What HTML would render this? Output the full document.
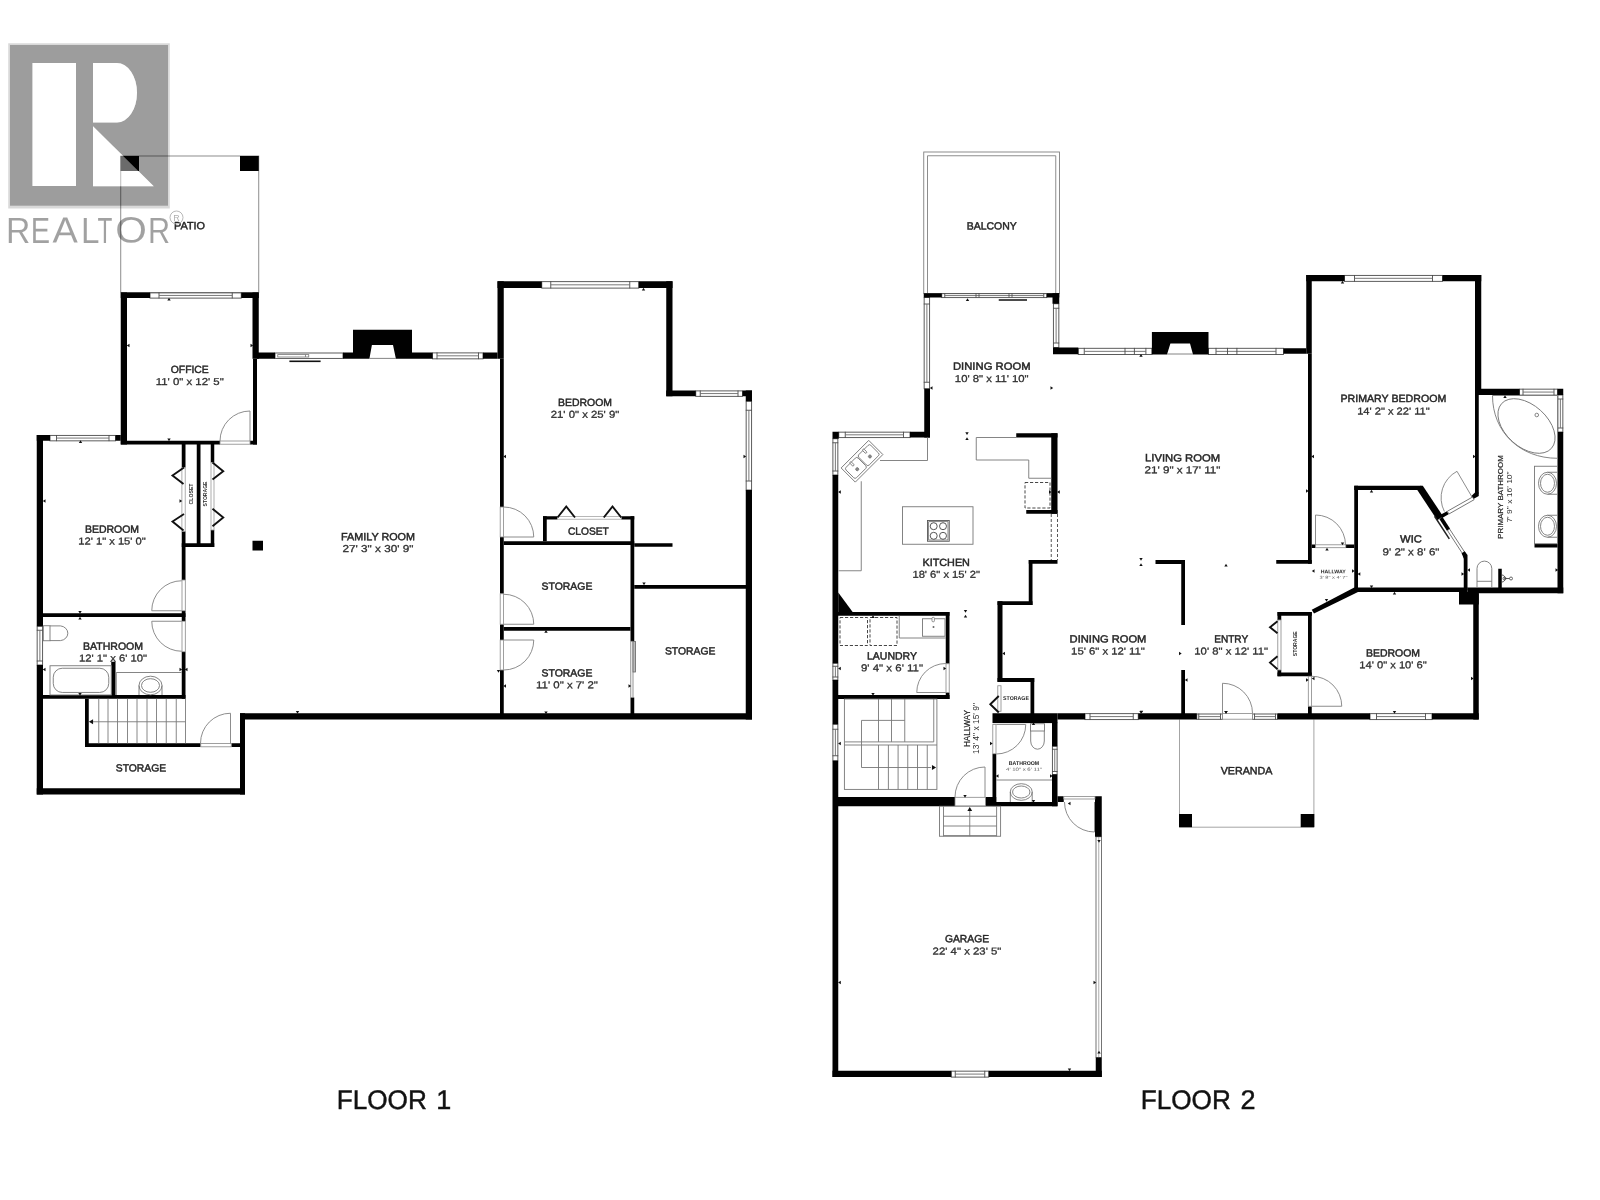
<!DOCTYPE html>
<html><head><meta charset="utf-8"><title>Floor plan</title>
<style>
html,body{margin:0;padding:0;background:#fff;}
body{width:1600px;height:1200px;overflow:hidden;}
svg{display:block;font-family:"Liberation Sans",sans-serif;will-change:transform;opacity:0.999;}
</style></head><body>
<svg width="1600" height="1200" viewBox="0 0 1600 1200">
<rect width="1600" height="1200" fill="#fff"/>
<g id="floor1">
<rect x="120.75" y="156.00" width="138.00" height="136.50" fill="none" stroke="#808080" stroke-width="0.9"/>
<rect x="120.50" y="156.00" width="18.50" height="15.00" fill="#000"/>
<rect x="240.00" y="156.00" width="18.75" height="15.00" fill="#000"/>
<rect x="150.00" y="292.90" width="91.25" height="5.20" fill="#fff" stroke="#4a4a4a" stroke-width="0.9"/>
<line x1="159.00" y1="292.50" x2="159.00" y2="298.40" stroke="#4a4a4a" stroke-width="0.9" />
<line x1="232.25" y1="292.50" x2="232.25" y2="298.40" stroke="#4a4a4a" stroke-width="0.9" />
<line x1="159.00" y1="295.45" x2="232.25" y2="295.45" stroke="#6a6a6a" stroke-width="0.9" />
<rect x="50.00" y="435.40" width="65.50" height="5.45" fill="#fff" stroke="#4a4a4a" stroke-width="0.9"/>
<line x1="56.50" y1="435.00" x2="56.50" y2="441.15" stroke="#4a4a4a" stroke-width="0.9" />
<line x1="109.00" y1="435.00" x2="109.00" y2="441.15" stroke="#4a4a4a" stroke-width="0.9" />
<line x1="56.50" y1="438.07" x2="109.00" y2="438.07" stroke="#6a6a6a" stroke-width="0.9" />
<rect x="37.15" y="626.25" width="5.45" height="38.75" fill="#fff" stroke="#4a4a4a" stroke-width="0.9"/>
<line x1="36.75" y1="630.25" x2="43.00" y2="630.25" stroke="#4a4a4a" stroke-width="0.9" />
<line x1="36.75" y1="661.00" x2="43.00" y2="661.00" stroke="#4a4a4a" stroke-width="0.9" />
<line x1="39.88" y1="630.25" x2="39.88" y2="661.00" stroke="#6a6a6a" stroke-width="0.9" />
<rect x="432.50" y="352.90" width="50.50" height="5.95" fill="#fff" stroke="#4a4a4a" stroke-width="0.9"/>
<line x1="437.00" y1="352.50" x2="437.00" y2="359.15" stroke="#4a4a4a" stroke-width="0.9" />
<line x1="478.50" y1="352.50" x2="478.50" y2="359.15" stroke="#4a4a4a" stroke-width="0.9" />
<line x1="437.00" y1="355.82" x2="478.50" y2="355.82" stroke="#6a6a6a" stroke-width="0.9" />
<rect x="541.75" y="281.65" width="97.00" height="6.45" fill="#fff" stroke="#4a4a4a" stroke-width="0.9"/>
<line x1="550.75" y1="281.25" x2="550.75" y2="288.40" stroke="#4a4a4a" stroke-width="0.9" />
<line x1="629.75" y1="281.25" x2="629.75" y2="288.40" stroke="#4a4a4a" stroke-width="0.9" />
<line x1="550.75" y1="284.82" x2="629.75" y2="284.82" stroke="#6a6a6a" stroke-width="0.9" />
<rect x="695.75" y="390.90" width="46.75" height="5.45" fill="#fff" stroke="#4a4a4a" stroke-width="0.9"/>
<line x1="700.25" y1="390.50" x2="700.25" y2="396.65" stroke="#4a4a4a" stroke-width="0.9" />
<line x1="738.00" y1="390.50" x2="738.00" y2="396.65" stroke="#4a4a4a" stroke-width="0.9" />
<line x1="700.25" y1="393.57" x2="738.00" y2="393.57" stroke="#6a6a6a" stroke-width="0.9" />
<rect x="746.15" y="401.25" width="5.45" height="88.75" fill="#fff" stroke="#4a4a4a" stroke-width="0.9"/>
<line x1="745.75" y1="410.25" x2="752.00" y2="410.25" stroke="#4a4a4a" stroke-width="0.9" />
<line x1="745.75" y1="481.00" x2="752.00" y2="481.00" stroke="#4a4a4a" stroke-width="0.9" />
<line x1="748.88" y1="410.25" x2="748.88" y2="481.00" stroke="#6a6a6a" stroke-width="0.9" />
<rect x="275.00" y="353.00" width="68.00" height="5.40" fill="#fff" stroke="#4a4a4a" stroke-width="0.9"/>
<rect x="277.75" y="354.60" width="31.00" height="2.40" fill="#fff" stroke="#777" stroke-width="0.8"/>
<line x1="305.50" y1="354.60" x2="305.50" y2="357.00" stroke="#777" stroke-width="0.8" />
<rect x="289.40" y="360.50" width="31.20" height="1.60" fill="#111"/>
<rect x="120.75" y="292.50" width="29.25" height="5.50" fill="#000"/>
<rect x="241.25" y="292.50" width="17.50" height="5.50" fill="#000"/>
<rect x="120.75" y="292.50" width="6.25" height="152.00" fill="#000"/>
<rect x="252.50" y="292.50" width="6.25" height="66.25" fill="#000"/>
<rect x="253.00" y="358.75" width="4.00" height="85.75" fill="#000"/>
<rect x="120.75" y="440.75" width="99.25" height="3.75" fill="#000"/>
<rect x="250.00" y="440.75" width="7.00" height="3.75" fill="#000"/>
<rect x="36.75" y="435.00" width="13.25" height="5.75" fill="#000"/>
<rect x="115.50" y="435.00" width="5.25" height="5.75" fill="#000"/>
<rect x="36.75" y="435.00" width="6.25" height="191.25" fill="#000"/>
<rect x="36.75" y="665.00" width="6.25" height="129.50" fill="#000"/>
<rect x="181.75" y="444.00" width="3.75" height="23.50" fill="#000"/>
<rect x="181.75" y="531.25" width="3.75" height="48.75" fill="#000"/>
<rect x="196.75" y="444.00" width="3.75" height="103.00" fill="#000"/>
<rect x="210.75" y="444.00" width="3.50" height="18.50" fill="#000"/>
<rect x="210.75" y="530.00" width="3.50" height="17.00" fill="#000"/>
<rect x="181.75" y="543.25" width="32.50" height="3.75" fill="#000"/>
<rect x="181.75" y="610.75" width="3.75" height="10.50" fill="#000"/>
<rect x="181.75" y="651.75" width="3.75" height="47.00" fill="#000"/>
<rect x="43.00" y="613.25" width="142.50" height="3.75" fill="#000"/>
<rect x="43.00" y="695.00" width="142.50" height="3.75" fill="#000"/>
<rect x="111.25" y="661.75" width="4.25" height="33.25" fill="#000"/>
<rect x="85.00" y="698.75" width="3.75" height="48.25" fill="#000"/>
<rect x="85.00" y="743.25" width="115.75" height="3.75" fill="#000"/>
<rect x="231.25" y="743.25" width="8.75" height="3.75" fill="#000"/>
<rect x="240.00" y="713.25" width="5.00" height="81.25" fill="#000"/>
<rect x="36.75" y="788.25" width="208.25" height="6.25" fill="#000"/>
<rect x="240.00" y="713.25" width="512.00" height="6.25" fill="#000"/>
<rect x="257.00" y="352.50" width="18.00" height="6.25" fill="#000"/>
<rect x="343.00" y="352.50" width="10.00" height="6.25" fill="#000"/>
<rect x="412.00" y="352.50" width="20.50" height="6.25" fill="#000"/>
<rect x="483.00" y="352.50" width="14.50" height="6.25" fill="#000"/>
<rect x="497.50" y="281.25" width="44.25" height="6.75" fill="#000"/>
<rect x="638.75" y="281.25" width="33.75" height="6.75" fill="#000"/>
<rect x="497.50" y="281.25" width="6.25" height="77.50" fill="#000"/>
<rect x="500.00" y="358.75" width="3.75" height="148.25" fill="#000"/>
<rect x="500.00" y="537.00" width="3.75" height="56.75" fill="#000"/>
<rect x="500.00" y="624.25" width="3.75" height="15.75" fill="#000"/>
<rect x="500.00" y="670.00" width="3.75" height="49.00" fill="#000"/>
<rect x="666.25" y="281.25" width="6.25" height="115.00" fill="#000"/>
<rect x="666.25" y="390.50" width="29.50" height="5.75" fill="#000"/>
<rect x="742.50" y="390.50" width="9.50" height="5.75" fill="#000"/>
<rect x="745.75" y="390.50" width="6.25" height="10.75" fill="#000"/>
<rect x="745.75" y="490.00" width="6.25" height="229.50" fill="#000"/>
<rect x="543.00" y="516.25" width="3.75" height="25.00" fill="#000"/>
<rect x="543.00" y="516.25" width="14.50" height="3.25" fill="#000"/>
<rect x="621.25" y="516.25" width="13.00" height="3.25" fill="#000"/>
<rect x="630.50" y="516.25" width="3.75" height="28.75" fill="#000"/>
<rect x="503.75" y="541.25" width="130.50" height="3.75" fill="#000"/>
<rect x="634.25" y="543.25" width="38.25" height="3.50" fill="#000"/>
<rect x="630.50" y="545.00" width="3.75" height="96.25" fill="#000"/>
<rect x="630.50" y="697.50" width="3.75" height="17.50" fill="#000"/>
<rect x="634.25" y="585.00" width="112.00" height="3.75" fill="#000"/>
<rect x="503.75" y="627.00" width="126.75" height="3.75" fill="#000"/>
<rect x="252.50" y="540.75" width="10.50" height="9.75" fill="#000"/>
<path d="M353,329.75 H412 V358.75 H395.9 L393,345 H371.9 L369.4,358.75 H353 Z" fill="#000"/>
<line x1="369.40" y1="358.40" x2="395.90" y2="358.40" stroke="#666" stroke-width="0.8" />
<rect x="181.90" y="467.50" width="3.30" height="63.75" fill="#fff" stroke="#999" stroke-width="0.8"/>
<rect x="211.00" y="462.50" width="3.00" height="67.50" fill="#fff" stroke="#999" stroke-width="0.8"/>
<polyline points="184.00,467.50 172.50,475.50 183.50,484.00" fill="none" stroke="#111" stroke-width="1.9" stroke-linejoin="miter"/>
<polyline points="184.00,514.00 172.50,521.50 183.50,530.50" fill="none" stroke="#111" stroke-width="1.9" stroke-linejoin="miter"/>
<polyline points="212.50,462.50 223.25,471.25 212.50,479.50" fill="none" stroke="#111" stroke-width="1.9" stroke-linejoin="miter"/>
<polyline points="212.50,508.75 223.25,517.50 212.50,526.25" fill="none" stroke="#111" stroke-width="1.9" stroke-linejoin="miter"/>
<text x="193.30" y="494.00" font-size="5" fill="#2a2a2a" text-anchor="middle" textLength="21.0" lengthAdjust="spacingAndGlyphs" transform="rotate(-90 193.30 494.00)" font-weight="bold" >CLOSET</text>
<text x="206.80" y="494.00" font-size="5" fill="#2a2a2a" text-anchor="middle" textLength="25.0" lengthAdjust="spacingAndGlyphs" transform="rotate(-90 206.80 494.00)" font-weight="bold" >STORAGE</text>
<rect x="557.50" y="516.60" width="63.75" height="2.60" fill="#fff" stroke="#999" stroke-width="0.7"/>
<polyline points="557.50,517.50 566.25,506.50 575.00,517.50" fill="none" stroke="#111" stroke-width="1.9" stroke-linejoin="miter"/>
<polyline points="603.75,517.50 612.50,506.50 621.25,517.50" fill="none" stroke="#111" stroke-width="1.9" stroke-linejoin="miter"/>
<rect x="220.00" y="441.00" width="30.00" height="3.20" fill="#fff" stroke="#888" stroke-width="0.8"/>
<path d="M250.00,411.00 A30,30 0 0 0 220.00,441.00" stroke="#808080" stroke-width="0.9" fill="none" />
<line x1="250.00" y1="441.00" x2="250.00" y2="411.00" stroke="#808080" stroke-width="0.9" />
<rect x="182.00" y="580.00" width="3.30" height="30.75" fill="#fff" stroke="#888" stroke-width="0.8"/>
<path d="M151.75,610.75 A30,30 0 0 1 181.75,580.75" stroke="#808080" stroke-width="0.9" fill="none" />
<line x1="181.75" y1="610.75" x2="151.75" y2="610.75" stroke="#808080" stroke-width="0.9" />
<rect x="182.00" y="621.25" width="3.30" height="30.50" fill="#fff" stroke="#888" stroke-width="0.8"/>
<path d="M151.75,621.25 A30,30 0 0 0 181.75,651.25" stroke="#808080" stroke-width="0.9" fill="none" />
<line x1="181.75" y1="621.25" x2="151.75" y2="621.25" stroke="#808080" stroke-width="0.9" />
<rect x="200.75" y="743.50" width="30.50" height="3.30" fill="#fff" stroke="#888" stroke-width="0.8"/>
<path d="M230.50,713.25 A30,30 0 0 0 200.50,743.25" stroke="#808080" stroke-width="0.9" fill="none" />
<line x1="230.50" y1="743.25" x2="230.50" y2="713.25" stroke="#808080" stroke-width="0.9" />
<rect x="500.20" y="507.00" width="3.30" height="30.00" fill="#fff" stroke="#888" stroke-width="0.8"/>
<path d="M533.75,537.00 A30,30 0 0 0 503.75,507.00" stroke="#808080" stroke-width="0.9" fill="none" />
<line x1="503.75" y1="537.00" x2="533.75" y2="537.00" stroke="#808080" stroke-width="0.9" />
<rect x="500.20" y="593.75" width="3.30" height="30.50" fill="#fff" stroke="#888" stroke-width="0.8"/>
<path d="M533.75,624.25 A30,30 0 0 0 503.75,594.25" stroke="#808080" stroke-width="0.9" fill="none" />
<line x1="503.75" y1="624.25" x2="533.75" y2="624.25" stroke="#808080" stroke-width="0.9" />
<rect x="500.20" y="640.00" width="3.30" height="30.00" fill="#fff" stroke="#888" stroke-width="0.8"/>
<path d="M533.75,640.00 A30,30 0 0 1 503.75,670.00" stroke="#808080" stroke-width="0.9" fill="none" />
<line x1="503.75" y1="640.00" x2="533.75" y2="640.00" stroke="#808080" stroke-width="0.9" />
<rect x="630.80" y="641.25" width="2.20" height="56.25" fill="#fff" stroke="#777" stroke-width="0.8"/>
<rect x="633.00" y="641.50" width="2.60" height="30.50" fill="#bbb" stroke="#666" stroke-width="0.8"/>
<rect x="43.30" y="625.75" width="6.70" height="15.00" fill="#fff" stroke="#777" stroke-width="0.9"/>
<path d="M50,625.9 H60.5 A8.3,7.4 0 0 1 60.5,640.6 H50" stroke="#777" stroke-width="0.9" fill="none" />
<rect x="50.00" y="665.75" width="61.25" height="29.25" fill="#fff" stroke="#777" stroke-width="0.9"/>
<rect x="53.25" y="668.25" width="55.5" height="24.2" rx="9" ry="9" fill="none" stroke="#777" stroke-width="0.9"/>
<path d="M116.25,695 V672.5 H181.5" stroke="#777" stroke-width="0.9" fill="none" />
<ellipse cx="150.5" cy="685.5" rx="11.5" ry="9.3" fill="none" stroke="#777" stroke-width="0.9"/>
<ellipse cx="150.5" cy="685.5" rx="9" ry="6.8" fill="none" stroke="#777" stroke-width="0.9"/>
<path d="M139,685.5 V695 M162,685.5 V695" stroke="#777" stroke-width="0.9" fill="none" />
<line x1="98.75" y1="698.75" x2="98.75" y2="743.25" stroke="#7a7a7a" stroke-width="0.9" />
<line x1="108.00" y1="698.75" x2="108.00" y2="743.25" stroke="#7a7a7a" stroke-width="0.9" />
<line x1="117.50" y1="698.75" x2="117.50" y2="743.25" stroke="#7a7a7a" stroke-width="0.9" />
<line x1="127.50" y1="698.75" x2="127.50" y2="743.25" stroke="#7a7a7a" stroke-width="0.9" />
<line x1="137.00" y1="698.75" x2="137.00" y2="743.25" stroke="#7a7a7a" stroke-width="0.9" />
<line x1="147.00" y1="698.75" x2="147.00" y2="743.25" stroke="#7a7a7a" stroke-width="0.9" />
<line x1="156.50" y1="698.75" x2="156.50" y2="743.25" stroke="#7a7a7a" stroke-width="0.9" />
<line x1="166.25" y1="698.75" x2="166.25" y2="743.25" stroke="#7a7a7a" stroke-width="0.9" />
<line x1="176.25" y1="698.75" x2="176.25" y2="743.25" stroke="#7a7a7a" stroke-width="0.9" />
<line x1="185.50" y1="698.75" x2="185.50" y2="743.25" stroke="#7a7a7a" stroke-width="0.9" />
<line x1="92.00" y1="721.75" x2="185.50" y2="721.75" stroke="#7a7a7a" stroke-width="0.9" />
<polygon points="88.90,721.75 93.06,719.15 93.06,724.35" fill="#111"/>
<polygon points="169.00,297.80 167.30,300.52 170.70,300.52" fill="#111"/>
<polygon points="169.00,441.20 167.30,438.48 170.70,438.48" fill="#111"/>
<polygon points="126.80,345.50 129.52,343.80 129.52,347.20" fill="#111"/>
<polygon points="253.20,345.50 250.48,343.80 250.48,347.20" fill="#111"/>
<polygon points="80.50,440.30 78.80,443.02 82.20,443.02" fill="#111"/>
<polygon points="80.00,613.70 78.30,610.98 81.70,610.98" fill="#111"/>
<polygon points="80.00,616.80 78.30,619.52 81.70,619.52" fill="#111"/>
<polygon points="80.00,695.70 78.30,692.98 81.70,692.98" fill="#111"/>
<polygon points="42.80,501.00 45.52,499.30 45.52,502.70" fill="#111"/>
<polygon points="182.20,501.00 179.48,499.30 179.48,502.70" fill="#111"/>
<polygon points="42.80,669.50 45.52,667.80 45.52,671.20" fill="#111"/>
<polygon points="182.20,669.50 179.48,667.80 179.48,671.20" fill="#111"/>
<polygon points="184.80,669.50 187.52,667.80 187.52,671.20" fill="#111"/>
<polygon points="297.50,713.70 295.80,710.98 299.20,710.98" fill="#111"/>
<polygon points="643.50,287.80 641.80,290.52 645.20,290.52" fill="#111"/>
<polygon points="503.30,456.50 506.02,454.80 506.02,458.20" fill="#111"/>
<polygon points="746.20,456.50 743.48,454.80 743.48,458.20" fill="#111"/>
<polygon points="644.00,585.20 642.30,582.48 645.70,582.48" fill="#111"/>
<polygon points="546.00,630.10 544.30,632.82 547.70,632.82" fill="#111"/>
<polygon points="546.00,714.20 544.30,711.48 547.70,711.48" fill="#111"/>
<polygon points="503.30,686.00 506.02,684.30 506.02,687.70" fill="#111"/>
<polygon points="631.20,686.00 628.48,684.30 628.48,687.70" fill="#111"/>
<polygon points="498.50,672.70 496.80,669.98 500.20,669.98" fill="#111"/>
<text x="189.50" y="229.20" font-size="10.4" fill="#262626" text-anchor="middle" textLength="31.0" lengthAdjust="spacingAndGlyphs" transform="rotate(0.03 189.50 229.20)" stroke="#262626" stroke-width="0.45">PATIO</text>
<text x="189.75" y="373.10" font-size="10.4" fill="#262626" text-anchor="middle" textLength="38.0" lengthAdjust="spacingAndGlyphs" transform="rotate(0.03 189.75 373.10)" stroke="#262626" stroke-width="0.45">OFFICE</text>
<text x="189.75" y="385.00" font-size="10.0" fill="#303030" text-anchor="middle" textLength="68.0" lengthAdjust="spacingAndGlyphs" transform="rotate(0.03 189.75 385.00)" stroke="#303030" stroke-width="0.3">11' 0&quot; x 12' 5&quot;</text>
<text x="112.00" y="532.70" font-size="10.4" fill="#262626" text-anchor="middle" textLength="54.2" lengthAdjust="spacingAndGlyphs" transform="rotate(0.03 112.00 532.70)" stroke="#262626" stroke-width="0.45">BEDROOM</text>
<text x="112.00" y="544.60" font-size="10.0" fill="#303030" text-anchor="middle" textLength="67.5" lengthAdjust="spacingAndGlyphs" transform="rotate(0.03 112.00 544.60)" stroke="#303030" stroke-width="0.3">12' 1&quot; x 15' 0&quot;</text>
<text x="378.00" y="540.20" font-size="10.4" fill="#262626" text-anchor="middle" textLength="74.0" lengthAdjust="spacingAndGlyphs" transform="rotate(0.03 378.00 540.20)" stroke="#262626" stroke-width="0.45">FAMILY ROOM</text>
<text x="378.00" y="552.10" font-size="10.0" fill="#303030" text-anchor="middle" textLength="71.0" lengthAdjust="spacingAndGlyphs" transform="rotate(0.03 378.00 552.10)" stroke="#303030" stroke-width="0.3">27' 3&quot; x 30' 9&quot;</text>
<text x="585.00" y="405.90" font-size="10.4" fill="#262626" text-anchor="middle" textLength="54.0" lengthAdjust="spacingAndGlyphs" transform="rotate(0.03 585.00 405.90)" stroke="#262626" stroke-width="0.45">BEDROOM</text>
<text x="585.00" y="417.80" font-size="10.0" fill="#303030" text-anchor="middle" textLength="68.5" lengthAdjust="spacingAndGlyphs" transform="rotate(0.03 585.00 417.80)" stroke="#303030" stroke-width="0.3">21' 0&quot; x 25' 9&quot;</text>
<text x="113.00" y="649.70" font-size="10.4" fill="#262626" text-anchor="middle" textLength="60.2" lengthAdjust="spacingAndGlyphs" transform="rotate(0.03 113.00 649.70)" stroke="#262626" stroke-width="0.45">BATHROOM</text>
<text x="113.00" y="661.60" font-size="10.0" fill="#303030" text-anchor="middle" textLength="68.0" lengthAdjust="spacingAndGlyphs" transform="rotate(0.03 113.00 661.60)" stroke="#303030" stroke-width="0.3">12' 1&quot; x 6' 10&quot;</text>
<text x="141.00" y="771.60" font-size="10.4" fill="#262626" text-anchor="middle" textLength="50.5" lengthAdjust="spacingAndGlyphs" transform="rotate(0.03 141.00 771.60)" stroke="#262626" stroke-width="0.45">STORAGE</text>
<text x="567.00" y="589.70" font-size="10.4" fill="#262626" text-anchor="middle" textLength="50.8" lengthAdjust="spacingAndGlyphs" transform="rotate(0.03 567.00 589.70)" stroke="#262626" stroke-width="0.45">STORAGE</text>
<text x="567.00" y="676.40" font-size="10.4" fill="#262626" text-anchor="middle" textLength="50.8" lengthAdjust="spacingAndGlyphs" transform="rotate(0.03 567.00 676.40)" stroke="#262626" stroke-width="0.45">STORAGE</text>
<text x="567.00" y="688.30" font-size="10.0" fill="#303030" text-anchor="middle" textLength="61.8" lengthAdjust="spacingAndGlyphs" transform="rotate(0.03 567.00 688.30)" stroke="#303030" stroke-width="0.3">11' 0&quot; x 7' 2&quot;</text>
<text x="690.20" y="654.60" font-size="10.4" fill="#262626" text-anchor="middle" textLength="50.5" lengthAdjust="spacingAndGlyphs" transform="rotate(0.03 690.20 654.60)" stroke="#262626" stroke-width="0.45">STORAGE</text>
<text x="588.40" y="534.80" font-size="10.4" fill="#262626" text-anchor="middle" textLength="40.8" lengthAdjust="spacingAndGlyphs" transform="rotate(0.03 588.40 534.80)" stroke="#262626" stroke-width="0.45">CLOSET</text>
<text x="336.80" y="1109.00" font-size="27" fill="#111" text-anchor="start" textLength="90.0" lengthAdjust="spacingAndGlyphs" transform="rotate(0.03 336.80 1109.00)" stroke="#111" stroke-width="0.45">FLOOR</text>
<text x="451.40" y="1109.00" font-size="27" fill="#111" text-anchor="end" transform="rotate(0.03 451.40 1109.00)" stroke="#111" stroke-width="0.45">1</text>
</g>
<g id="floor2">
<rect x="923.75" y="152.00" width="135.75" height="141.50" fill="none" stroke="#808080" stroke-width="0.9"/>
<path d="M927.5,293.5 V155.75 H1055.75 V293.5" stroke="#808080" stroke-width="0.9" fill="none" />
<path d="M1179.5,719.5 V827.2 H1313.9 V719.5" stroke="#9a9a9a" stroke-width="0.9" fill="none" />
<rect x="941.75" y="293.65" width="105.00" height="3.95" fill="#fff" stroke="#4a4a4a" stroke-width="0.9"/>
<line x1="944.75" y1="293.25" x2="944.75" y2="297.90" stroke="#4a4a4a" stroke-width="0.9" />
<line x1="1043.75" y1="293.25" x2="1043.75" y2="297.90" stroke="#4a4a4a" stroke-width="0.9" />
<line x1="944.75" y1="295.57" x2="1043.75" y2="295.57" stroke="#6a6a6a" stroke-width="0.9" />
<line x1="976.00" y1="293.25" x2="976.00" y2="297.50" stroke="#4a4a4a" stroke-width="0.8" />
<line x1="979.00" y1="293.25" x2="979.00" y2="297.50" stroke="#4a4a4a" stroke-width="0.8" />
<line x1="1009.00" y1="293.25" x2="1009.00" y2="297.50" stroke="#4a4a4a" stroke-width="0.8" />
<line x1="1012.00" y1="293.25" x2="1012.00" y2="297.50" stroke="#4a4a4a" stroke-width="0.8" />
<rect x="998.75" y="299.25" width="28.25" height="1.50" fill="#111"/>
<rect x="924.15" y="297.50" width="5.45" height="91.25" fill="#fff" stroke="#4a4a4a" stroke-width="0.9"/>
<line x1="923.75" y1="304.00" x2="930.00" y2="304.00" stroke="#4a4a4a" stroke-width="0.9" />
<line x1="923.75" y1="382.25" x2="930.00" y2="382.25" stroke="#4a4a4a" stroke-width="0.9" />
<line x1="926.88" y1="304.00" x2="926.88" y2="382.25" stroke="#6a6a6a" stroke-width="0.9" />
<rect x="1053.40" y="303.75" width="5.45" height="43.75" fill="#fff" stroke="#4a4a4a" stroke-width="0.9"/>
<line x1="1053.00" y1="308.25" x2="1059.25" y2="308.25" stroke="#4a4a4a" stroke-width="0.9" />
<line x1="1053.00" y1="343.00" x2="1059.25" y2="343.00" stroke="#4a4a4a" stroke-width="0.9" />
<line x1="1056.12" y1="308.25" x2="1056.12" y2="343.00" stroke="#6a6a6a" stroke-width="0.9" />
<rect x="1078.25" y="348.30" width="73.65" height="6.20" fill="#fff" stroke="#4a4a4a" stroke-width="0.9"/>
<line x1="1084.25" y1="347.90" x2="1084.25" y2="354.80" stroke="#4a4a4a" stroke-width="0.9" />
<line x1="1145.90" y1="347.90" x2="1145.90" y2="354.80" stroke="#4a4a4a" stroke-width="0.9" />
<line x1="1084.25" y1="351.35" x2="1145.90" y2="351.35" stroke="#6a6a6a" stroke-width="0.9" />
<line x1="1125.00" y1="347.90" x2="1125.00" y2="354.40" stroke="#4a4a4a" stroke-width="0.9" />
<line x1="1134.40" y1="347.90" x2="1134.40" y2="354.40" stroke="#4a4a4a" stroke-width="0.9" />
<rect x="1208.50" y="348.30" width="75.00" height="6.20" fill="#fff" stroke="#4a4a4a" stroke-width="0.9"/>
<line x1="1216.00" y1="347.90" x2="1216.00" y2="354.80" stroke="#4a4a4a" stroke-width="0.9" />
<line x1="1276.00" y1="347.90" x2="1276.00" y2="354.80" stroke="#4a4a4a" stroke-width="0.9" />
<line x1="1216.00" y1="351.35" x2="1276.00" y2="351.35" stroke="#6a6a6a" stroke-width="0.9" />
<line x1="1227.50" y1="347.90" x2="1227.50" y2="354.40" stroke="#4a4a4a" stroke-width="0.9" />
<line x1="1236.90" y1="347.90" x2="1236.90" y2="354.40" stroke="#4a4a4a" stroke-width="0.9" />
<rect x="838.75" y="432.15" width="71.25" height="5.45" fill="#fff" stroke="#4a4a4a" stroke-width="0.9"/>
<line x1="845.25" y1="431.75" x2="845.25" y2="437.90" stroke="#4a4a4a" stroke-width="0.9" />
<line x1="903.50" y1="431.75" x2="903.50" y2="437.90" stroke="#4a4a4a" stroke-width="0.9" />
<line x1="845.25" y1="434.82" x2="903.50" y2="434.82" stroke="#6a6a6a" stroke-width="0.9" />
<rect x="832.90" y="438.75" width="4.95" height="36.25" fill="#fff" stroke="#4a4a4a" stroke-width="0.9"/>
<line x1="832.50" y1="442.75" x2="838.25" y2="442.75" stroke="#4a4a4a" stroke-width="0.9" />
<line x1="832.50" y1="471.00" x2="838.25" y2="471.00" stroke="#4a4a4a" stroke-width="0.9" />
<line x1="835.38" y1="442.75" x2="835.38" y2="471.00" stroke="#6a6a6a" stroke-width="0.9" />
<rect x="832.90" y="663.25" width="4.95" height="16.75" fill="#fff" stroke="#4a4a4a" stroke-width="0.9"/>
<line x1="832.50" y1="666.25" x2="838.25" y2="666.25" stroke="#4a4a4a" stroke-width="0.9" />
<line x1="832.50" y1="677.00" x2="838.25" y2="677.00" stroke="#4a4a4a" stroke-width="0.9" />
<line x1="835.38" y1="666.25" x2="835.38" y2="677.00" stroke="#6a6a6a" stroke-width="0.9" />
<rect x="832.90" y="724.25" width="4.95" height="36.50" fill="#fff" stroke="#4a4a4a" stroke-width="0.9"/>
<line x1="832.50" y1="729.25" x2="838.25" y2="729.25" stroke="#4a4a4a" stroke-width="0.9" />
<line x1="832.50" y1="755.75" x2="838.25" y2="755.75" stroke="#4a4a4a" stroke-width="0.9" />
<line x1="835.38" y1="729.25" x2="835.38" y2="755.75" stroke="#6a6a6a" stroke-width="0.9" />
<rect x="1052.40" y="746.25" width="4.70" height="28.25" fill="#fff" stroke="#4a4a4a" stroke-width="0.9"/>
<line x1="1052.00" y1="749.25" x2="1057.50" y2="749.25" stroke="#4a4a4a" stroke-width="0.9" />
<line x1="1052.00" y1="771.50" x2="1057.50" y2="771.50" stroke="#4a4a4a" stroke-width="0.9" />
<line x1="1054.75" y1="749.25" x2="1054.75" y2="771.50" stroke="#6a6a6a" stroke-width="0.9" />
<rect x="1085.00" y="713.65" width="53.25" height="5.95" fill="#fff" stroke="#4a4a4a" stroke-width="0.9"/>
<line x1="1090.00" y1="713.25" x2="1090.00" y2="719.90" stroke="#4a4a4a" stroke-width="0.9" />
<line x1="1133.25" y1="713.25" x2="1133.25" y2="719.90" stroke="#4a4a4a" stroke-width="0.9" />
<line x1="1090.00" y1="716.58" x2="1133.25" y2="716.58" stroke="#6a6a6a" stroke-width="0.9" />
<rect x="1196.75" y="714.00" width="25.75" height="5.30" fill="#fff" stroke="#4a4a4a" stroke-width="0.9"/>
<line x1="1198.75" y1="713.60" x2="1198.75" y2="719.60" stroke="#4a4a4a" stroke-width="0.9" />
<line x1="1220.50" y1="713.60" x2="1220.50" y2="719.60" stroke="#4a4a4a" stroke-width="0.9" />
<line x1="1198.75" y1="716.60" x2="1220.50" y2="716.60" stroke="#6a6a6a" stroke-width="0.9" />
<rect x="1252.50" y="714.00" width="25.00" height="5.30" fill="#fff" stroke="#4a4a4a" stroke-width="0.9"/>
<line x1="1254.50" y1="713.60" x2="1254.50" y2="719.60" stroke="#4a4a4a" stroke-width="0.9" />
<line x1="1275.50" y1="713.60" x2="1275.50" y2="719.60" stroke="#4a4a4a" stroke-width="0.9" />
<line x1="1254.50" y1="716.60" x2="1275.50" y2="716.60" stroke="#6a6a6a" stroke-width="0.9" />
<rect x="1370.00" y="713.65" width="62.00" height="5.95" fill="#fff" stroke="#4a4a4a" stroke-width="0.9"/>
<line x1="1376.50" y1="713.25" x2="1376.50" y2="719.90" stroke="#4a4a4a" stroke-width="0.9" />
<line x1="1425.50" y1="713.25" x2="1425.50" y2="719.90" stroke="#4a4a4a" stroke-width="0.9" />
<line x1="1376.50" y1="716.58" x2="1425.50" y2="716.58" stroke="#6a6a6a" stroke-width="0.9" />
<rect x="951.25" y="1071.15" width="37.50" height="5.95" fill="#fff" stroke="#4a4a4a" stroke-width="0.9"/>
<line x1="955.25" y1="1070.75" x2="955.25" y2="1077.40" stroke="#4a4a4a" stroke-width="0.9" />
<line x1="984.75" y1="1070.75" x2="984.75" y2="1077.40" stroke="#4a4a4a" stroke-width="0.9" />
<line x1="955.25" y1="1074.08" x2="984.75" y2="1074.08" stroke="#6a6a6a" stroke-width="0.9" />
<rect x="1344.50" y="275.40" width="98.00" height="5.95" fill="#fff" stroke="#4a4a4a" stroke-width="0.9"/>
<line x1="1354.50" y1="275.00" x2="1354.50" y2="281.65" stroke="#4a4a4a" stroke-width="0.9" />
<line x1="1432.50" y1="275.00" x2="1432.50" y2="281.65" stroke="#4a4a4a" stroke-width="0.9" />
<line x1="1354.50" y1="278.32" x2="1432.50" y2="278.32" stroke="#6a6a6a" stroke-width="0.9" />
<rect x="1519.50" y="389.15" width="38.00" height="5.95" fill="#fff" stroke="#4a4a4a" stroke-width="0.9"/>
<line x1="1523.00" y1="388.75" x2="1523.00" y2="395.40" stroke="#4a4a4a" stroke-width="0.9" />
<line x1="1554.00" y1="388.75" x2="1554.00" y2="395.40" stroke="#4a4a4a" stroke-width="0.9" />
<line x1="1523.00" y1="392.07" x2="1554.00" y2="392.07" stroke="#6a6a6a" stroke-width="0.9" />
<rect x="1557.90" y="395.00" width="4.95" height="37.00" fill="#fff" stroke="#4a4a4a" stroke-width="0.9"/>
<line x1="1557.50" y1="399.00" x2="1563.25" y2="399.00" stroke="#4a4a4a" stroke-width="0.9" />
<line x1="1557.50" y1="428.00" x2="1563.25" y2="428.00" stroke="#4a4a4a" stroke-width="0.9" />
<line x1="1560.38" y1="399.00" x2="1560.38" y2="428.00" stroke="#6a6a6a" stroke-width="0.9" />
<rect x="1096.00" y="836.75" width="5.50" height="220.75" fill="#fff" stroke="#666" stroke-width="0.9"/>
<line x1="1098.75" y1="836.75" x2="1098.75" y2="1057.50" stroke="#999" stroke-width="0.8" />
<rect x="923.75" y="293.25" width="18.00" height="4.25" fill="#000"/>
<rect x="1046.75" y="293.25" width="12.50" height="4.25" fill="#000"/>
<rect x="1052.50" y="293.25" width="6.75" height="10.50" fill="#000"/>
<rect x="924.25" y="388.75" width="5.75" height="48.75" fill="#000"/>
<rect x="1053.00" y="347.50" width="25.25" height="6.75" fill="#000"/>
<rect x="1283.50" y="348.25" width="22.75" height="5.50" fill="#000"/>
<rect x="832.50" y="431.75" width="6.25" height="7.00" fill="#000"/>
<rect x="910.00" y="431.75" width="20.00" height="5.75" fill="#000"/>
<rect x="832.50" y="475.00" width="5.75" height="188.25" fill="#000"/>
<rect x="832.50" y="680.00" width="5.75" height="44.25" fill="#000"/>
<rect x="832.50" y="760.75" width="5.75" height="316.25" fill="#000"/>
<rect x="838.00" y="612.00" width="111.50" height="3.75" fill="#000"/>
<rect x="945.75" y="612.00" width="3.75" height="51.75" fill="#000"/>
<rect x="945.75" y="692.50" width="3.75" height="6.50" fill="#000"/>
<rect x="838.00" y="695.00" width="111.50" height="4.00" fill="#000"/>
<rect x="1016.25" y="433.25" width="41.25" height="4.25" fill="#000"/>
<rect x="1051.25" y="433.25" width="6.25" height="80.50" fill="#000"/>
<rect x="1026.25" y="510.00" width="31.25" height="3.75" fill="#000"/>
<rect x="1028.75" y="560.00" width="28.75" height="3.75" fill="#000"/>
<rect x="1028.75" y="560.00" width="3.75" height="45.00" fill="#000"/>
<rect x="997.50" y="601.25" width="35.00" height="3.75" fill="#000"/>
<rect x="997.50" y="601.25" width="5.00" height="80.50" fill="#000"/>
<rect x="997.50" y="678.00" width="36.75" height="4.00" fill="#000"/>
<rect x="1030.50" y="678.00" width="3.75" height="38.00" fill="#000"/>
<rect x="992.50" y="713.25" width="65.00" height="9.85" fill="#000"/>
<rect x="992.50" y="753.75" width="3.75" height="52.50" fill="#000"/>
<rect x="1052.00" y="722.50" width="5.50" height="23.75" fill="#000"/>
<rect x="1052.00" y="774.50" width="5.50" height="31.75" fill="#000"/>
<rect x="992.50" y="802.00" width="65.00" height="4.25" fill="#000"/>
<rect x="1057.50" y="796.25" width="6.25" height="5.75" fill="#000"/>
<rect x="1057.50" y="713.25" width="27.50" height="6.25" fill="#000"/>
<rect x="1138.25" y="713.25" width="58.50" height="6.25" fill="#000"/>
<rect x="1277.50" y="713.25" width="92.50" height="6.25" fill="#000"/>
<rect x="1432.00" y="713.25" width="46.75" height="6.25" fill="#000"/>
<rect x="1155.50" y="560.00" width="29.50" height="4.00" fill="#000"/>
<rect x="1181.25" y="560.00" width="3.75" height="65.00" fill="#000"/>
<rect x="1181.25" y="670.00" width="3.75" height="46.00" fill="#000"/>
<rect x="838.00" y="797.00" width="117.00" height="9.25" fill="#000"/>
<rect x="985.40" y="797.00" width="10.85" height="9.25" fill="#000"/>
<rect x="1095.00" y="796.25" width="6.75" height="40.50" fill="#000"/>
<rect x="1095.75" y="1057.50" width="6.00" height="19.50" fill="#000"/>
<rect x="832.50" y="1070.75" width="118.75" height="6.25" fill="#000"/>
<rect x="988.75" y="1070.75" width="113.00" height="6.25" fill="#000"/>
<rect x="1306.25" y="275.00" width="38.25" height="6.25" fill="#000"/>
<rect x="1442.50" y="275.00" width="38.75" height="6.25" fill="#000"/>
<rect x="1306.25" y="275.00" width="5.50" height="78.75" fill="#000"/>
<rect x="1308.00" y="353.75" width="3.75" height="210.00" fill="#000"/>
<rect x="1475.00" y="275.00" width="6.25" height="120.00" fill="#000"/>
<rect x="1475.00" y="395.00" width="3.75" height="98.50" fill="#000"/>
<rect x="1276.25" y="560.00" width="35.50" height="3.75" fill="#000"/>
<rect x="1478.75" y="388.75" width="40.75" height="6.25" fill="#000"/>
<rect x="1557.50" y="388.75" width="5.75" height="6.25" fill="#000"/>
<rect x="1557.50" y="432.00" width="5.75" height="161.25" fill="#000"/>
<rect x="1467.50" y="587.50" width="95.75" height="5.75" fill="#000"/>
<rect x="1534.50" y="543.75" width="23.00" height="3.75" fill="#000"/>
<rect x="1498.25" y="568.75" width="3.50" height="19.25" fill="#000"/>
<rect x="1354.25" y="485.75" width="67.00" height="4.25" fill="#000"/>
<rect x="1354.25" y="485.75" width="3.75" height="106.25" fill="#000"/>
<rect x="1354.25" y="587.50" width="113.25" height="4.50" fill="#000"/>
<rect x="1311.75" y="544.50" width="3.75" height="3.50" fill="#000"/>
<rect x="1345.75" y="544.50" width="8.50" height="3.50" fill="#000"/>
<rect x="1459.00" y="592.00" width="19.75" height="12.50" fill="#000"/>
<rect x="1473.25" y="593.25" width="5.50" height="126.25" fill="#000"/>
<rect x="1277.50" y="612.00" width="34.25" height="3.75" fill="#000"/>
<rect x="1277.50" y="612.00" width="3.75" height="8.00" fill="#000"/>
<rect x="1277.50" y="670.00" width="3.75" height="6.25" fill="#000"/>
<rect x="1277.50" y="672.50" width="34.25" height="3.75" fill="#000"/>
<rect x="1308.00" y="612.00" width="3.75" height="64.25" fill="#000"/>
<rect x="1308.00" y="706.25" width="3.75" height="12.75" fill="#000"/>
<rect x="1179.00" y="814.00" width="13.00" height="13.20" fill="#000"/>
<rect x="1300.70" y="814.00" width="13.60" height="13.20" fill="#000"/>
<polygon points="838.25,592.5 853,612.5 838.25,612.5" fill="#000"/>
<path d="M1151.9,331.9 H1208.5 V354.4 H1193 L1190,343.5 H1170.4 L1167,354.4 H1151.9 Z" fill="#000"/>
<line x1="1167.00" y1="354.00" x2="1193.00" y2="354.00" stroke="#666" stroke-width="0.8" />
<polygon points="1417.3,490 1420.5,485.75 1422.8,485.75 1443,516.2 1437.3,520.3" fill="#000"/>
<polygon points="1440,515 1447,511.2 1448.6,514.2 1441.7,518.2" fill="#000"/>
<polygon points="1475,492.5 1478.75,492.5 1478.75,496 1473,499.2 1471.4,496" fill="#000"/>
<polygon points="1354.25,587.5 1358,592 1314,613.5 1311.75,609.7" fill="#000"/>
<polygon points="1463.75,556 1467.5,558.5 1467.5,590 1463.75,590" fill="#000"/>
<polygon points="1442.50,517.03 1439.31,519.11 1446.96,530.84 1450.14,528.76" fill="#000"/>
<polygon points="1449.64,529.09 1447.46,530.51 1463.84,555.65 1466.02,554.23" fill="#fff" stroke="#555" stroke-width="0.8"/>
<polygon points="1435.20,515.82 1433.94,516.64 1448.69,539.26 1449.94,538.44" fill="#222"/>
<polygon points="1461.6,553.2 1464.6,551.2 1467.5,555 1467.5,558.5 1463.75,558.5" fill="#000"/>
<polygon points="1447.3,511.3 1472.6,497 1474.1,499.7 1448.9,514" fill="#fff" stroke="#555" stroke-width="0.8"/>
<path d="M1457,471.3 A30,30 0 0 0 1444.4,511.5" stroke="#808080" stroke-width="0.9" fill="none" />
<line x1="1457.00" y1="471.30" x2="1472.00" y2="497.00" stroke="#808080" stroke-width="0.9" />
<path d="M838.5,570.75 H861.25 V481.25" stroke="#777" stroke-width="0.9" fill="none" />
<path d="M880,460.5 H927.5 V437.5" stroke="#777" stroke-width="0.9" fill="none" />
<path d="M1016.5,437.5 H976.25 V460 H1028.75 V478.25 H1051.25" stroke="#777" stroke-width="0.9" fill="none" />
<g transform="rotate(-45 862 461.25)" fill="#fff" stroke="#777" stroke-width="0.9"><rect x="842.5" y="451.25" width="39" height="20"/><rect x="844.5" y="454.3" width="17" height="14.7" rx="2"/><rect x="862.5" y="454.3" width="17" height="14.7" rx="2"/><circle cx="853" cy="463.5" r="1.5" fill="#888"/><circle cx="871" cy="463.5" r="1.5" fill="#888"/><rect x="852" y="453.5" width="2" height="5" rx="1"/><rect x="870" y="453.5" width="2" height="5" rx="1"/></g>
<rect x="1025" y="482.5" width="25" height="25.5" fill="none" stroke="#333" stroke-width="0.9" stroke-dasharray="3.2,1.8"/>
<line x1="1051.25" y1="514.00" x2="1051.25" y2="560.00" stroke="#444" stroke-width="0.9" stroke-dasharray="3,2"/>
<line x1="1057.50" y1="514.00" x2="1057.50" y2="560.00" stroke="#444" stroke-width="0.9" stroke-dasharray="3,2"/>
<rect x="902.50" y="506.75" width="70.50" height="37.50" fill="#fff" stroke="#777" stroke-width="0.9"/>
<rect x="927.50" y="520.50" width="21.75" height="20.75" fill="#fff" stroke="#555" stroke-width="0.9"/>
<rect x="928.70" y="521.70" width="19.30" height="18.30" fill="none" stroke="#555" stroke-width="0.7"/>
<circle cx="933.7" cy="526.2" r="3.5" fill="none" stroke="#444" stroke-width="0.9"/>
<circle cx="943" cy="526.2" r="3.5" fill="none" stroke="#444" stroke-width="0.9"/>
<circle cx="933.7" cy="535.8" r="3.5" fill="none" stroke="#444" stroke-width="0.9"/>
<circle cx="943" cy="535.8" r="3.5" fill="none" stroke="#444" stroke-width="0.9"/>
<rect x="840" y="617.5" width="27.5" height="28" fill="none" stroke="#333" stroke-width="0.9" stroke-dasharray="3.2,1.8"/>
<rect x="870" y="617.5" width="27" height="28" fill="none" stroke="#333" stroke-width="0.9" stroke-dasharray="3.2,1.8"/>
<path d="M899.25,615.75 V638 H945.75" stroke="#777" stroke-width="0.9" fill="none" />
<rect x="922.50" y="618.75" width="22.50" height="17.50" fill="#fff" stroke="#777" stroke-width="0.9"/>
<rect x="932" y="617.3" width="2.4" height="4.5" rx="1" fill="#fff" stroke="#777" stroke-width="0.8"/><circle cx="933.5" cy="627" r="1" fill="#666"/>
<rect x="946.00" y="663.75" width="3.20" height="28.75" fill="#fff" stroke="#888" stroke-width="0.8"/>
<path d="M916.75,692.50 A29,29 0 0 1 945.75,663.50" stroke="#808080" stroke-width="0.9" fill="none" />
<line x1="945.75" y1="692.50" x2="916.75" y2="692.50" stroke="#808080" stroke-width="0.9" />
<rect x="997.80" y="685.75" width="3.20" height="25.50" fill="#fff" stroke="#888" stroke-width="0.8"/>
<polyline points="998.75,696.00 990.30,704.30 998.75,712.50" fill="none" stroke="#111" stroke-width="1.9" stroke-linejoin="miter"/>
<rect x="992.80" y="724.50" width="3.20" height="29.25" fill="#fff" stroke="#888" stroke-width="0.8"/>
<path d="M1025.75,724.50 A29.5,29.5 0 0 1 996.25,754.00" stroke="#808080" stroke-width="0.9" fill="none" />
<line x1="996.25" y1="724.50" x2="1025.75" y2="724.50" stroke="#808080" stroke-width="0.9" />
<rect x="1030.50" y="723.75" width="14.00" height="7.25" fill="#fff" stroke="#777" stroke-width="0.9"/>
<path d="M1030.7,731 V741 A6.8,8.2 0 0 0 1044.3,741 V731" stroke="#777" stroke-width="0.9" fill="none" />
<line x1="996.25" y1="780.00" x2="1052.00" y2="780.00" stroke="#777" stroke-width="0.9" />
<ellipse cx="1021.25" cy="792" rx="11" ry="8.3" fill="none" stroke="#777" stroke-width="0.9"/>
<ellipse cx="1021.25" cy="792" rx="8.7" ry="6" fill="none" stroke="#777" stroke-width="0.9"/>
<path d="M1010.3,792 V802 M1032.2,792 V802" stroke="#777" stroke-width="0.9" fill="none" />
<rect x="955.00" y="797.30" width="30.40" height="8.70" fill="#fff" stroke="#888" stroke-width="0.8"/>
<path d="M985.00,767.00 A30,30 0 0 0 955.00,797.00" stroke="#808080" stroke-width="0.9" fill="none" />
<line x1="985.00" y1="797.00" x2="985.00" y2="767.00" stroke="#808080" stroke-width="0.9" />
<rect x="1063.75" y="796.50" width="31.25" height="2.50" fill="#fff" stroke="#888" stroke-width="0.8"/>
<path d="M1094.50,832.00 A30,30 0 0 1 1064.50,802.00" stroke="#808080" stroke-width="0.9" fill="none" />
<line x1="1094.50" y1="802.00" x2="1094.50" y2="832.00" stroke="#808080" stroke-width="0.9" />
<rect x="939.50" y="806.25" width="61.10" height="30.00" fill="#fff" stroke="#777" stroke-width="0.9"/>
<line x1="943.50" y1="806.25" x2="943.50" y2="836.25" stroke="#777" stroke-width="0.9" />
<line x1="996.60" y1="806.25" x2="996.60" y2="836.25" stroke="#777" stroke-width="0.9" />
<line x1="943.50" y1="816.25" x2="996.60" y2="816.25" stroke="#777" stroke-width="0.9" />
<line x1="943.50" y1="826.00" x2="996.60" y2="826.00" stroke="#777" stroke-width="0.9" />
<line x1="943.50" y1="835.60" x2="996.60" y2="835.60" stroke="#777" stroke-width="0.9" />
<line x1="969.75" y1="808.00" x2="969.75" y2="836.25" stroke="#777" stroke-width="0.9" />
<polygon points="969.75,807.10 967.35,810.94 972.15,810.94" fill="#111"/>
<rect x="844.40" y="699.00" width="92.50" height="90.40" fill="none" stroke="#777" stroke-width="0.9"/>
<path d="M933.75,699 V741.9 H845" stroke="#777" stroke-width="0.9" fill="none" />
<line x1="844.40" y1="745.00" x2="936.90" y2="745.00" stroke="#777" stroke-width="0.9" />
<line x1="878.50" y1="699.00" x2="878.50" y2="741.90" stroke="#777" stroke-width="0.9" />
<line x1="891.50" y1="699.00" x2="891.50" y2="741.90" stroke="#777" stroke-width="0.9" />
<line x1="904.75" y1="699.00" x2="904.75" y2="741.90" stroke="#777" stroke-width="0.9" />
<path d="M904.75,720.4 H861.5 V767.5 H931" stroke="#777" stroke-width="0.9" fill="none" />
<line x1="878.50" y1="745.00" x2="878.50" y2="789.40" stroke="#777" stroke-width="0.9" />
<line x1="888.40" y1="745.00" x2="888.40" y2="789.40" stroke="#777" stroke-width="0.9" />
<line x1="898.10" y1="745.00" x2="898.10" y2="789.40" stroke="#777" stroke-width="0.9" />
<line x1="907.75" y1="745.00" x2="907.75" y2="789.40" stroke="#777" stroke-width="0.9" />
<line x1="917.50" y1="745.00" x2="917.50" y2="789.40" stroke="#777" stroke-width="0.9" />
<line x1="927.25" y1="745.00" x2="927.25" y2="789.40" stroke="#777" stroke-width="0.9" />
<polygon points="936.10,767.50 931.94,764.90 931.94,770.10" fill="#111"/>
<rect x="1222.50" y="713.60" width="30.00" height="5.60" fill="#fff" stroke="#888" stroke-width="0.8"/>
<path d="M1222.50,683.25 A30,30 0 0 1 1252.50,713.25" stroke="#808080" stroke-width="0.9" fill="none" />
<line x1="1222.50" y1="713.25" x2="1222.50" y2="683.25" stroke="#808080" stroke-width="0.9" />
<rect x="1277.80" y="620.00" width="3.20" height="50.00" fill="#fff" stroke="#888" stroke-width="0.8"/>
<polyline points="1277.50,621.25 1270.00,627.20 1277.50,633.25" fill="none" stroke="#111" stroke-width="1.9" stroke-linejoin="miter"/>
<polyline points="1277.50,656.25 1270.00,662.60 1277.50,669.25" fill="none" stroke="#111" stroke-width="1.9" stroke-linejoin="miter"/>
<rect x="1308.30" y="676.25" width="3.20" height="30.00" fill="#fff" stroke="#888" stroke-width="0.8"/>
<path d="M1341.75,706.25 A30,30 0 0 0 1311.75,676.25" stroke="#808080" stroke-width="0.9" fill="none" />
<line x1="1311.75" y1="706.25" x2="1341.75" y2="706.25" stroke="#808080" stroke-width="0.9" />
<rect x="1315.50" y="544.80" width="30.25" height="2.90" fill="#fff" stroke="#888" stroke-width="0.8"/>
<path d="M1315.50,515.00 A30,30 0 0 1 1345.50,545.00" stroke="#808080" stroke-width="0.9" fill="none" />
<line x1="1315.50" y1="545.00" x2="1315.50" y2="515.00" stroke="#808080" stroke-width="0.9" />
<path d="M1492.5,395.5 H1557.5 V458.3 C1520,458.3 1492.5,432 1492.5,395.5 Z" stroke="#777" stroke-width="0.9" fill="#fff" />
<ellipse cx="1526.5" cy="426" rx="33.5" ry="21" transform="rotate(42 1526.5 426)" fill="none" stroke="#777" stroke-width="0.9"/>
<circle cx="1536.75" cy="415" r="1.8" fill="none" stroke="#777" stroke-width="0.9"/>
<rect x="1534.50" y="466.25" width="23.00" height="77.50" fill="#fff" stroke="#777" stroke-width="0.9"/>
<ellipse cx="1547.5" cy="483.25" rx="9" ry="11" fill="none" stroke="#777" stroke-width="0.9"/>
<ellipse cx="1547.5" cy="483.25" rx="7" ry="9" fill="none" stroke="#777" stroke-width="0.9"/>
<path d="M1547.5,472.25 H1557.5 M1547.5,494.25 H1557.5" stroke="#777" stroke-width="0.9" fill="none" />
<ellipse cx="1547.5" cy="526.25" rx="9" ry="11" fill="none" stroke="#777" stroke-width="0.9"/>
<ellipse cx="1547.5" cy="526.25" rx="7" ry="9" fill="none" stroke="#777" stroke-width="0.9"/>
<path d="M1547.5,515.25 H1557.5 M1547.5,537.25 H1557.5" stroke="#777" stroke-width="0.9" fill="none" />
<path d="M1477,587.5 V568.5 A7.4,7.4 0 0 1 1491.8,568.5 V587.5" stroke="#777" stroke-width="0.9" fill="none" />
<line x1="1477.00" y1="581.30" x2="1491.80" y2="581.30" stroke="#777" stroke-width="0.9" />
<path d="M1502,575 C1506,575 1506,582 1502,582 M1504.5,578.5 H1509.5" stroke="#444" stroke-width="0.9" fill="none" />
<circle cx="1504.5" cy="578.5" r="1.5" fill="none" stroke="#444" stroke-width="0.8"/><circle cx="1511" cy="578.5" r="1.5" fill="none" stroke="#444" stroke-width="0.8"/>
<polygon points="967.50,298.30 965.80,301.02 969.20,301.02" fill="#111"/>
<polygon points="929.80,388.00 932.52,386.30 932.52,389.70" fill="#111"/>
<polygon points="1053.20,388.00 1050.48,386.30 1050.48,389.70" fill="#111"/>
<polygon points="1141.00,354.10 1139.30,356.82 1142.70,356.82" fill="#111"/>
<polygon points="967.00,435.00 965.30,432.28 968.70,432.28" fill="#111"/>
<polygon points="967.00,437.30 965.30,440.02 968.70,440.02" fill="#111"/>
<polygon points="838.10,492.00 840.82,490.30 840.82,493.70" fill="#111"/>
<polygon points="1051.70,492.00 1048.98,490.30 1048.98,493.70" fill="#111"/>
<polygon points="1057.10,492.00 1059.82,490.30 1059.82,493.70" fill="#111"/>
<polygon points="965.50,612.70 963.80,609.98 967.20,609.98" fill="#111"/>
<polygon points="965.50,614.80 963.80,617.52 967.20,617.52" fill="#111"/>
<polygon points="873.00,615.30 871.30,618.02 874.70,618.02" fill="#111"/>
<polygon points="873.00,695.70 871.30,692.98 874.70,692.98" fill="#111"/>
<polygon points="838.10,668.50 840.82,666.80 840.82,670.20" fill="#111"/>
<polygon points="946.20,668.50 943.48,666.80 943.48,670.20" fill="#111"/>
<polygon points="1002.30,653.50 1005.02,651.80 1005.02,655.20" fill="#111"/>
<polygon points="1181.70,653.50 1178.98,651.80 1178.98,655.20" fill="#111"/>
<polygon points="1184.80,680.00 1187.52,678.30 1187.52,681.70" fill="#111"/>
<polygon points="1141.00,560.70 1139.30,557.98 1142.70,557.98" fill="#111"/>
<polygon points="1141.00,563.30 1139.30,566.02 1142.70,566.02" fill="#111"/>
<polygon points="1226.00,563.80 1224.30,566.52 1227.70,566.52" fill="#111"/>
<polygon points="1141.00,713.70 1139.30,710.98 1142.70,710.98" fill="#111"/>
<polygon points="1226.00,713.70 1224.30,710.98 1227.70,710.98" fill="#111"/>
<polygon points="1141.50,713.50 1139.80,710.78 1143.20,710.78" fill="#111"/>
<polygon points="838.10,743.50 840.82,741.80 840.82,745.20" fill="#111"/>
<polygon points="992.70,743.50 989.98,741.80 989.98,745.20" fill="#111"/>
<polygon points="995.80,776.00 998.52,774.30 998.52,777.70" fill="#111"/>
<polygon points="1052.70,776.00 1049.98,774.30 1049.98,777.70" fill="#111"/>
<polygon points="1033.50,722.30 1031.80,725.02 1035.20,725.02" fill="#111"/>
<polygon points="1033.50,802.70 1031.80,799.98 1035.20,799.98" fill="#111"/>
<polygon points="965.00,797.70 963.30,794.98 966.70,794.98" fill="#111"/>
<polygon points="1067.80,803.50 1070.52,801.80 1070.52,805.20" fill="#111"/>
<polygon points="838.10,982.50 840.82,980.80 840.82,984.20" fill="#111"/>
<polygon points="1096.20,982.50 1093.48,980.80 1093.48,984.20" fill="#111"/>
<polygon points="1069.50,1071.20 1067.80,1068.48 1071.20,1068.48" fill="#111"/>
<polygon points="1099.00,1050.80 1097.30,1053.52 1100.70,1053.52" fill="#111"/>
<polygon points="1099.00,842.70 1097.30,839.98 1100.70,839.98" fill="#111"/>
<polygon points="1342.50,280.80 1340.80,283.52 1344.20,283.52" fill="#111"/>
<polygon points="1311.30,456.50 1314.02,454.80 1314.02,458.20" fill="#111"/>
<polygon points="1475.70,456.50 1472.98,454.80 1472.98,458.20" fill="#111"/>
<polygon points="1308.70,491.00 1305.98,489.30 1305.98,492.70" fill="#111"/>
<polygon points="1371.50,489.80 1369.80,492.52 1373.20,492.52" fill="#111"/>
<polygon points="1371.50,588.20 1369.80,585.48 1373.20,585.48" fill="#111"/>
<polygon points="1357.60,574.00 1360.32,572.30 1360.32,575.70" fill="#111"/>
<polygon points="1464.20,574.00 1461.48,572.30 1461.48,575.70" fill="#111"/>
<polygon points="1467.30,570.00 1470.02,568.30 1470.02,571.70" fill="#111"/>
<polygon points="1558.20,570.00 1555.48,568.30 1555.48,571.70" fill="#111"/>
<polygon points="1505.00,395.30 1503.30,398.02 1506.70,398.02" fill="#111"/>
<polygon points="1327.00,547.80 1325.30,550.52 1328.70,550.52" fill="#111"/>
<polygon points="1342.50,545.20 1340.80,542.48 1344.20,542.48" fill="#111"/>
<polygon points="1311.80,571.00 1314.52,569.30 1314.52,572.70" fill="#111"/>
<polygon points="1354.70,571.00 1351.98,569.30 1351.98,572.70" fill="#111"/>
<polygon points="1326.50,601.70 1324.80,598.98 1328.20,598.98" fill="#111"/>
<polygon points="1394.50,591.80 1392.80,594.52 1396.20,594.52" fill="#111"/>
<polygon points="1394.50,713.70 1392.80,710.98 1396.20,710.98" fill="#111"/>
<polygon points="1473.70,678.50 1470.98,676.80 1470.98,680.20" fill="#111"/>
<polygon points="1311.80,678.50 1314.52,676.80 1314.52,680.20" fill="#111"/>
<polygon points="1308.70,680.00 1305.98,678.30 1305.98,681.70" fill="#111"/>
<polygon points="1226.00,713.70 1224.30,710.98 1227.70,710.98" fill="#111"/>
<text x="991.75" y="229.60" font-size="10.4" fill="#262626" text-anchor="middle" textLength="50.0" lengthAdjust="spacingAndGlyphs" transform="rotate(0.03 991.75 229.60)" stroke="#262626" stroke-width="0.45">BALCONY</text>
<text x="991.75" y="369.70" font-size="10.4" fill="#262626" text-anchor="middle" textLength="77.5" lengthAdjust="spacingAndGlyphs" transform="rotate(0.03 991.75 369.70)" stroke="#262626" stroke-width="0.45">DINING ROOM</text>
<text x="991.75" y="382.00" font-size="10.0" fill="#303030" text-anchor="middle" textLength="73.8" lengthAdjust="spacingAndGlyphs" transform="rotate(0.03 991.75 382.00)" stroke="#303030" stroke-width="0.3">10' 8&quot; x 11' 10&quot;</text>
<text x="1182.50" y="461.40" font-size="10.4" fill="#262626" text-anchor="middle" textLength="75.0" lengthAdjust="spacingAndGlyphs" transform="rotate(0.03 1182.50 461.40)" stroke="#262626" stroke-width="0.45">LIVING ROOM</text>
<text x="1182.50" y="473.30" font-size="10.0" fill="#303030" text-anchor="middle" textLength="76.0" lengthAdjust="spacingAndGlyphs" transform="rotate(0.03 1182.50 473.30)" stroke="#303030" stroke-width="0.3">21' 9&quot; x 17' 11&quot;</text>
<text x="946.20" y="565.90" font-size="10.4" fill="#262626" text-anchor="middle" textLength="47.5" lengthAdjust="spacingAndGlyphs" transform="rotate(0.03 946.20 565.90)" stroke="#262626" stroke-width="0.45">KITCHEN</text>
<text x="946.20" y="577.80" font-size="10.0" fill="#303030" text-anchor="middle" textLength="67.5" lengthAdjust="spacingAndGlyphs" transform="rotate(0.03 946.20 577.80)" stroke="#303030" stroke-width="0.3">18' 6&quot; x 15' 2&quot;</text>
<text x="892.00" y="659.60" font-size="10.4" fill="#262626" text-anchor="middle" textLength="50.0" lengthAdjust="spacingAndGlyphs" transform="rotate(0.03 892.00 659.60)" stroke="#262626" stroke-width="0.45">LAUNDRY</text>
<text x="892.00" y="671.30" font-size="10.0" fill="#303030" text-anchor="middle" textLength="62.0" lengthAdjust="spacingAndGlyphs" transform="rotate(0.03 892.00 671.30)" stroke="#303030" stroke-width="0.3">9' 4&quot; x 6' 11&quot;</text>
<text x="1108.00" y="642.60" font-size="10.4" fill="#262626" text-anchor="middle" textLength="76.8" lengthAdjust="spacingAndGlyphs" transform="rotate(0.03 1108.00 642.60)" stroke="#262626" stroke-width="0.45">DINING ROOM</text>
<text x="1108.00" y="654.50" font-size="10.0" fill="#303030" text-anchor="middle" textLength="73.8" lengthAdjust="spacingAndGlyphs" transform="rotate(0.03 1108.00 654.50)" stroke="#303030" stroke-width="0.3">15' 6&quot; x 12' 11&quot;</text>
<text x="1231.20" y="642.60" font-size="10.4" fill="#262626" text-anchor="middle" textLength="34.0" lengthAdjust="spacingAndGlyphs" transform="rotate(0.03 1231.20 642.60)" stroke="#262626" stroke-width="0.45">ENTRY</text>
<text x="1231.20" y="654.50" font-size="10.0" fill="#303030" text-anchor="middle" textLength="73.8" lengthAdjust="spacingAndGlyphs" transform="rotate(0.03 1231.20 654.50)" stroke="#303030" stroke-width="0.3">10' 8&quot; x 12' 11&quot;</text>
<text x="967.00" y="942.20" font-size="10.4" fill="#262626" text-anchor="middle" textLength="44.2" lengthAdjust="spacingAndGlyphs" transform="rotate(0.03 967.00 942.20)" stroke="#262626" stroke-width="0.45">GARAGE</text>
<text x="967.00" y="954.50" font-size="10.0" fill="#303030" text-anchor="middle" textLength="68.8" lengthAdjust="spacingAndGlyphs" transform="rotate(0.03 967.00 954.50)" stroke="#303030" stroke-width="0.3">22' 4&quot; x 23' 5&quot;</text>
<text x="1393.40" y="402.10" font-size="10.4" fill="#262626" text-anchor="middle" textLength="105.8" lengthAdjust="spacingAndGlyphs" transform="rotate(0.03 1393.40 402.10)" stroke="#262626" stroke-width="0.45">PRIMARY BEDROOM</text>
<text x="1393.40" y="414.50" font-size="10.0" fill="#303030" text-anchor="middle" textLength="72.5" lengthAdjust="spacingAndGlyphs" transform="rotate(0.03 1393.40 414.50)" stroke="#303030" stroke-width="0.3">14' 2&quot; x 22' 11&quot;</text>
<text x="1411.00" y="542.60" font-size="10.4" fill="#262626" text-anchor="middle" textLength="21.8" lengthAdjust="spacingAndGlyphs" transform="rotate(0.03 1411.00 542.60)" stroke="#262626" stroke-width="0.45">WIC</text>
<text x="1411.00" y="555.30" font-size="10.0" fill="#303030" text-anchor="middle" textLength="56.8" lengthAdjust="spacingAndGlyphs" transform="rotate(0.03 1411.00 555.30)" stroke="#303030" stroke-width="0.3">9' 2&quot; x 8' 6&quot;</text>
<text x="1393.00" y="656.40" font-size="10.4" fill="#262626" text-anchor="middle" textLength="54.2" lengthAdjust="spacingAndGlyphs" transform="rotate(0.03 1393.00 656.40)" stroke="#262626" stroke-width="0.45">BEDROOM</text>
<text x="1393.00" y="668.30" font-size="10.0" fill="#303030" text-anchor="middle" textLength="67.5" lengthAdjust="spacingAndGlyphs" transform="rotate(0.03 1393.00 668.30)" stroke="#303030" stroke-width="0.3">14' 0&quot; x 10' 6&quot;</text>
<text x="1246.60" y="774.20" font-size="10.4" fill="#262626" text-anchor="middle" textLength="51.8" lengthAdjust="spacingAndGlyphs" transform="rotate(0.03 1246.60 774.20)" stroke="#262626" stroke-width="0.45">VERANDA</text>
<text x="1502.70" y="497.00" font-size="8" fill="#262626" text-anchor="middle" textLength="83.8" lengthAdjust="spacingAndGlyphs" transform="rotate(-90 1502.70 497.00)" stroke="#262626" stroke-width="0.2">PRIMARY BATHROOM</text>
<text x="1511.60" y="497.00" font-size="8" fill="#303030" text-anchor="middle" textLength="51.2" lengthAdjust="spacingAndGlyphs" transform="rotate(-90 1511.60 497.00)" >7' 9&quot; x 16' 10&quot;</text>
<text x="970.00" y="728.50" font-size="8.5" fill="#262626" text-anchor="middle" textLength="37.0" lengthAdjust="spacingAndGlyphs" transform="rotate(-90 970.00 728.50)" stroke="#262626" stroke-width="0.2">HALLWAY</text>
<text x="979.00" y="728.50" font-size="8.5" fill="#303030" text-anchor="middle" textLength="51.0" lengthAdjust="spacingAndGlyphs" transform="rotate(-90 979.00 728.50)" >13' 4&quot; x 15' 9&quot;</text>
<text x="1016.00" y="700.00" font-size="5.5" fill="#262626" text-anchor="middle" textLength="25.8" lengthAdjust="spacingAndGlyphs" transform="rotate(0.03 1016.00 700.00)" font-weight="bold" >STORAGE</text>
<text x="1024.00" y="765.00" font-size="5.5" fill="#262626" text-anchor="middle" textLength="30.5" lengthAdjust="spacingAndGlyphs" transform="rotate(0.03 1024.00 765.00)" font-weight="bold" >BATHROOM</text>
<text x="1024.00" y="770.80" font-size="4.5" fill="#555" text-anchor="middle" textLength="35.8" lengthAdjust="spacingAndGlyphs" transform="rotate(0.03 1024.00 770.80)" >4' 10&quot; x 6' 11&quot;</text>
<text x="1333.20" y="573.30" font-size="5" fill="#262626" text-anchor="middle" textLength="25.0" lengthAdjust="spacingAndGlyphs" transform="rotate(0.03 1333.20 573.30)" font-weight="bold" >HALLWAY</text>
<text x="1333.50" y="578.80" font-size="4.2" fill="#555" text-anchor="middle" textLength="28.0" lengthAdjust="spacingAndGlyphs" transform="rotate(0.03 1333.50 578.80)" >3' 8&quot; x 4' 7&quot;</text>
<text x="1297.00" y="643.75" font-size="5" fill="#262626" text-anchor="middle" textLength="25.0" lengthAdjust="spacingAndGlyphs" transform="rotate(-90 1297.00 643.75)" font-weight="bold" >STORAGE</text>
<text x="1140.80" y="1109.00" font-size="27" fill="#111" text-anchor="start" textLength="90.0" lengthAdjust="spacingAndGlyphs" transform="rotate(0.03 1140.80 1109.00)" stroke="#111" stroke-width="0.45">FLOOR</text>
<text x="1255.60" y="1109.00" font-size="27" fill="#111" text-anchor="end" transform="rotate(0.03 1255.60 1109.00)" stroke="#111" stroke-width="0.45">2</text>
</g>
<g id="logo">
<path fill-rule="evenodd" fill="#000" fill-opacity="0.15" d="M8.2,43.2 H169.8 V208.4 H8.2 Z M10,45 H168 V205.8 H10 Z"/>
<path fill-rule="evenodd" fill="#000" fill-opacity="0.385" d="M10,45 H168 V205.8 H10 Z M32.5,63 H76 V186 H32.5 Z M93,63 H117 A20,29.75 0 0 1 117,122.5 H93 Z M93,126.25 L153.75,186.25 H93 Z"/>
<path fill="#fff" fill-opacity="0.42" d="M32.5,63 H76 V186 H32.5 Z M93,63 H117 A20,29.75 0 0 1 117,122.5 H93 Z M93,126.25 L153.75,186.25 H93 Z"/>
<text x="6.02" y="242.6" font-size="36.5" fill="#000" fill-opacity="0.37" textLength="24.30" lengthAdjust="spacingAndGlyphs" transform="rotate(0.03 8.8 242)">R</text>
<text x="30.75" y="242.6" font-size="36.5" fill="#000" fill-opacity="0.37" textLength="19.32" lengthAdjust="spacingAndGlyphs" transform="rotate(0.03 33.1 242)">E</text>
<text x="52.50" y="242.6" font-size="36.5" fill="#000" fill-opacity="0.37" textLength="25.28" lengthAdjust="spacingAndGlyphs" transform="rotate(0.03 52.5 242)">A</text>
<text x="81.06" y="242.6" font-size="36.5" fill="#000" fill-opacity="0.37" textLength="18.46" lengthAdjust="spacingAndGlyphs" transform="rotate(0.03 83.8 242)">L</text>
<text x="97.44" y="242.6" font-size="36.5" fill="#000" fill-opacity="0.37" textLength="14.86" lengthAdjust="spacingAndGlyphs" transform="rotate(0.03 98.1 242)">T</text>
<text x="115.30" y="242.6" font-size="36.5" fill="#000" fill-opacity="0.37" textLength="31.66" lengthAdjust="spacingAndGlyphs" transform="rotate(0.03 117.5 242)">O</text>
<text x="148.12" y="242.6" font-size="36.5" fill="#000" fill-opacity="0.37" textLength="22.06" lengthAdjust="spacingAndGlyphs" transform="rotate(0.03 150.6 242)">R</text>
<circle cx="176.5" cy="217.5" r="6.5" fill="none" stroke="#b0b0b0" stroke-width="0.9"/>
<text x="176.5" y="221" font-size="9" fill="#b0b0b0" text-anchor="middle">R</text>
</g>
</svg>
</body></html>
